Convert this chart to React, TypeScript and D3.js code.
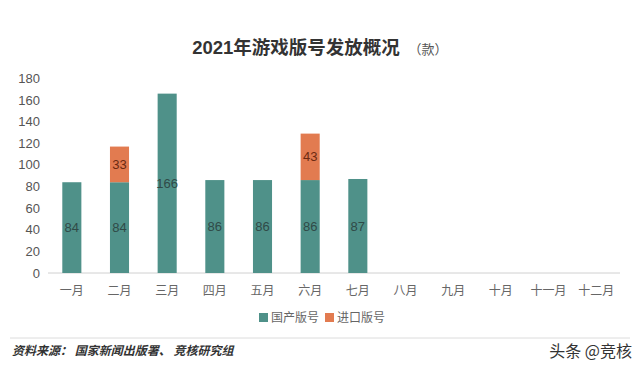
import React from 'react';
import * as d3 from 'd3';

const months = ['一月', '二月', '三月', '四月', '五月', '六月', '七月', '八月', '九月', '十月', '十一月', '十二月'];
const domestic = [84, 84, 166, 86, 86, 86, 87, null, null, null, null, null];
const imported = [0, 33, 0, 0, 0, 43, 0, null, null, null, null, null];
const yTicks = [0, 20, 40, 60, 80, 100, 120, 140, 160, 180];
const seriesNames = ['国产版号', '进口版号'];

const W = 640;
const H = 370;
const green = '#4f9189';
const orange = '#e27b50';
const font = '"Liberation Sans", "Noto Sans CJK SC", sans-serif';
const cjk = '"Noto Sans CJK SC", "Noto Sans", sans-serif';

export default function App() {
  const x = d3.scaleBand().domain(months).range([48, 620]).paddingInner(0.6).paddingOuter(0.3);
  const y = d3.scaleLinear().domain([0, 180]).range([273, 78.5]);
  const bw = x.bandwidth();

  return (
    <svg width={W} height={H} style={{ position: 'absolute', left: 0, top: 0, background: '#fff' }}>
      <text x={296} y={54} textAnchor="middle" fontFamily={font} fontSize={18.5} fontWeight="bold" fill="#333">
        2021年游戏版号发放概况
      </text>
      <text x={428} y={54} textAnchor="middle" fontFamily={cjk} fontSize={13} fill="#555">（款）</text>

      {yTicks.map(t => (
        <text key={t} x={40} y={y(t)} dy="0.35em" textAnchor="end" fontFamily={font} fontSize={13} fill="#555">
          {t}
        </text>
      ))}

      <line x1={48} x2={620} y1={y(0)} y2={y(0)} stroke="#d0d0d0" strokeWidth={1} />

      {months.map((m, i) => {
        const d = domestic[i];
        const im = imported[i];
        const bx = x(m)!;
        return (
          <g key={m}>
            {d != null && (
              <>
                <rect x={bx} y={y(d)} width={bw} height={y(0) - y(d)} fill={green} />
                <text x={bx + bw / 2} y={y(d / 2)} dy="0.35em" textAnchor="middle" fontFamily={font} fontSize={13} fill="#2f4a47">
                  {d}
                </text>
              </>
            )}
            {d != null && im != null && im > 0 && (
              <>
                <rect x={bx} y={y(d + im)} width={bw} height={y(d) - y(d + im)} fill={orange} />
                <text x={bx + bw / 2} y={y(d + im / 2)} dy="0.35em" textAnchor="middle" fontFamily={font} fontSize={13} fill="#6b2a12">
                  {im}
                </text>
              </>
            )}
            <text x={bx + bw / 2} y={291} dy="0.35em" textAnchor="middle" fontFamily={cjk} fontSize={12} fill="#666">
              {m}
            </text>
          </g>
        );
      })}

      <g fontFamily={cjk} fontSize={12} fill="#666">
        <rect x={259} y={313} width={9} height={9} fill={green} />
        <text x={271} y={318} dy="0.35em">{seriesNames[0]}</text>
        <rect x={325} y={313} width={9} height={9} fill={orange} />
        <text x={337} y={318} dy="0.35em">{seriesNames[1]}</text>
      </g>

      <line x1={10} x2={630} y1={338} y2={338} stroke="#dcdcdc" strokeWidth={1} />
      <text x={12} y={351} dy="0.35em" fontFamily={cjk} fontSize={12} fontStyle="italic" fontWeight="bold" fill="#333">
        资料来源： 国家新闻出版署、 竞核研究组
      </text>
      <text x={632} y={351} dy="0.35em" textAnchor="end" fontFamily={cjk} fontSize={16} fill="#333">
        头条 @竞核
      </text>
    </svg>
  );
}
